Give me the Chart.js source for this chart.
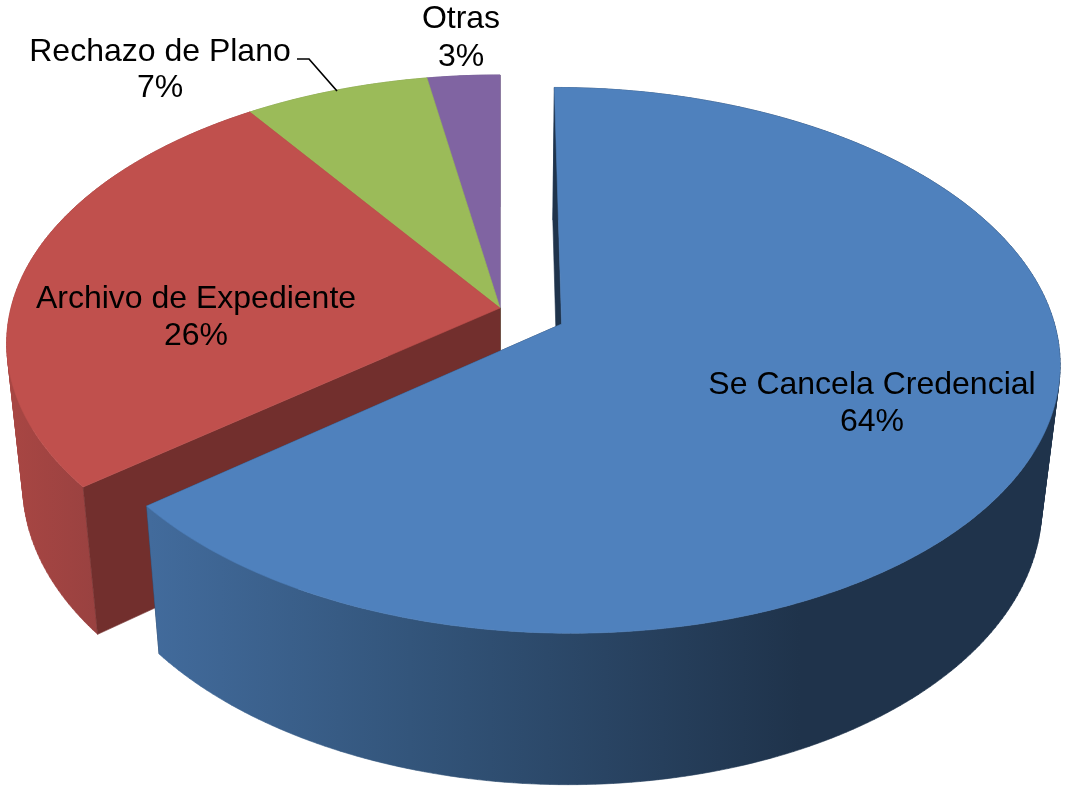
<!DOCTYPE html>
<html>
<head>
<meta charset="utf-8">
<style>html,body{margin:0;padding:0;background:#fff}canvas{display:block}</style>
<script src="https://cdn.jsdelivr.net/npm/chart.js@4"></script>
</head>
<body>
<canvas id="c" width="1068" height="786"></canvas>
<script>
const categories = ['Se Cancela Credencial', 'Archivo de Expediente', 'Rechazo de Plano', 'Otras'];
const values = [64.3, 26.1, 6.9, 2.7];
const percentLabels = ['64%', '26%', '7%', '3%'];
const topColors = ['#4F81BD', '#C0504D', '#9BBB59', '#8064A2'];
const explode = [51, 0, 0, 0];

// perspective camera for the tilted pie
const cam = {cx: 500, cy: 308, b: 489, a: 263.8, k: 0.132, m: 0.033, c: 146};
function project(u, v, h) {
  const w = 1 + cam.k * v + cam.m * h;
  return [cam.cx + cam.b * u / w, cam.cy + (-cam.a * v + cam.c * h) / w];
}

const labelStyle = {font: '32px "Liberation Sans", Arial, sans-serif', color: '#000'};
const labelAnchors = [
  {x: 872, y: 394, dy: 37},
  {x: 196, y: 308, dy: 37},
  {x: 160, y: 61, dy: 36},
  {x: 461, y: 28, dy: 38}
];
const leader = [[297, 59], [309, 59], [337, 91]];

const pie3d = {
  id: 'pie3d',
  beforeDatasetsDraw(chart) {
    const ctx = chart.ctx;
    const arcs = chart.getDatasetMeta(0).data;
    function geom(i) {
      const arc = arcs[i], R = arc.outerRadius;
      const mid = (arc.startAngle + arc.endAngle) / 2;
      const e = (arc.options.offset || 0) / R;
      const ox = e * Math.cos(mid), oy = -e * Math.sin(mid);
      const rim = h => {
        const pts = [], n = Math.max(8, Math.ceil((arc.endAngle - arc.startAngle) * 60));
        for (let j = 0; j <= n; j++) {
          const t = arc.startAngle + (arc.endAngle - arc.startAngle) * j / n;
          pts.push(project(ox + Math.cos(t), oy - Math.sin(t), h));
        }
        return pts;
      };
      const apex = h => project(ox, oy, h);
      return {rim, apex};
    }
    function trace(pts) {
      pts.forEach((p, i) => i ? ctx.lineTo(p[0], p[1]) : ctx.moveTo(p[0], p[1]));
      ctx.closePath();
    }
    function paint(style) {
      ctx.fillStyle = style;
      ctx.fill();
      ctx.strokeStyle = style;
      ctx.lineWidth = 0.6;
      ctx.stroke();
    }
    function fill(pts, style) {
      ctx.beginPath();
      trace(pts);
      paint(style);
    }
    function area(q) {
      let s = 0;
      q.forEach((p, i) => {
        const n = q[(i + 1) % q.length];
        s += p[0] * n[1] - n[0] * p[1];
      });
      return s;
    }
    function blueWall() {
      const g = ctx.createLinearGradient(150, 0, 800, 0);
      g.addColorStop(0, '#426B9C');
      g.addColorStop(0.4, '#33557B');
      g.addColorStop(1, '#1F334B');
      return g;
    }
    function redWall() {
      const g = ctx.createLinearGradient(10, 0, 105, 0);
      g.addColorStop(0, '#A84643');
      g.addColorStop(1, '#984140');
      return g;
    }
    const radial = ['#1F334B', '#722F2D', '#5D7035', '#4D3C61'];
    const outer = [blueWall(), redWall(), '#7C9647', '#665082'];
    function walls(i) {
      const g = geom(i), t = g.rim(0), b = g.rim(1), last = t.length - 1;
      fill([g.apex(0), t[last], b[last], g.apex(1)], radial[i]);
      ctx.beginPath();
      for (let j = 0; j < last; j++) {
        const q = [t[j], t[j + 1], b[j + 1], b[j]];
        trace(area(q) < 0 ? q.reverse() : q);
      }
      paint(outer[i]);
      fill([g.apex(0), t[0], b[0], g.apex(1)], radial[i]);
    }
    function top(i) {
      const g = geom(i);
      fill([g.apex(0)].concat(g.rim(0)), arcs[i].options.backgroundColor);
    }
    [3, 2, 1].forEach(walls);
    [3, 2, 1].forEach(top);
    walls(0);
    top(0);

    // leader line and labels
    ctx.strokeStyle = '#000';
    ctx.lineWidth = 1.7;
    ctx.beginPath();
    leader.forEach((p, i) => i ? ctx.lineTo(p[0], p[1]) : ctx.moveTo(p[0], p[1]));
    ctx.stroke();
    ctx.font = labelStyle.font;
    ctx.fillStyle = labelStyle.color;
    ctx.textAlign = 'center';
    ctx.textBaseline = 'alphabetic';
    categories.forEach((name, i) => {
      const l = labelAnchors[i];
      ctx.fillText(name, l.x, l.y);
      ctx.fillText(percentLabels[i], l.x, l.y + l.dy);
    });
    return false;
  }
};

new Chart(document.getElementById('c'), {
  type: 'pie',
  data: {
    labels: categories,
    datasets: [{data: values, backgroundColor: topColors, offset: explode, borderWidth: 0}]
  },
  options: {
    responsive: false,
    animation: false,
    layout: {padding: 0},
    plugins: {legend: {display: false}, tooltip: {enabled: false}}
  },
  plugins: [pie3d]
});
</script>
</body>
</html>
